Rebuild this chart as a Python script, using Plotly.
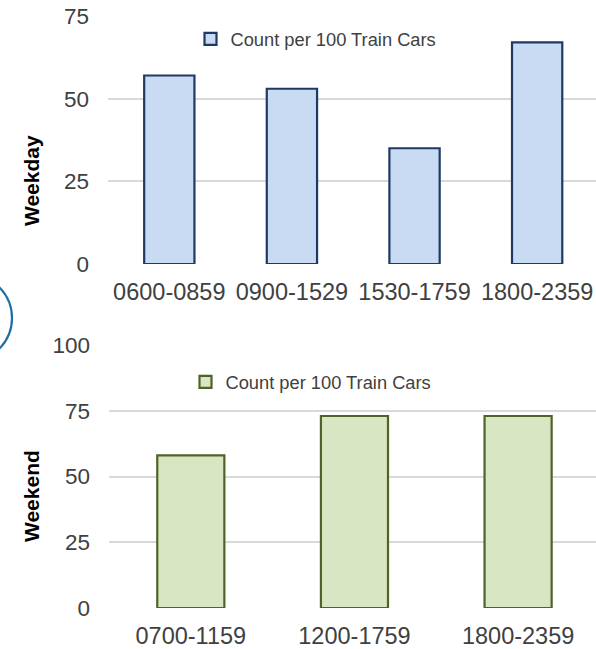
import plotly.graph_objects as go

# ---- data ----
weekday_periods = ["0600-0859", "0900-1529", "1530-1759", "1800-2359"]
weekday_counts = [57, 53, 35, 67]
weekend_periods = ["0700-1159", "1200-1759", "1800-2359"]
weekend_counts = [58, 73, 73]
series_name = "Count per 100 Train Cars"
weekday_ticks = [0, 25, 50, 75]
weekend_ticks = [0, 25, 50, 75, 100]

W, H = 596, 649
FONT = "Liberation Sans, Arial, sans-serif"
TICKCOL = "#404040"
GRID = "#d9d9d9"

def px_x(x):
    return x / W

def px_y(y):
    return (H - y) / H

fig = go.Figure()
fig.add_trace(go.Bar(
    x=weekday_periods, y=weekday_counts, name=series_name,
    xaxis="x", yaxis="y", legend="legend",
    marker=dict(color="#c9dbf2", line=dict(color="#1f3864", width=2.2)),
    hoverinfo="x+y",
))
fig.add_trace(go.Bar(
    x=weekend_periods, y=weekend_counts, name=series_name,
    xaxis="x2", yaxis="y2", legend="legend2",
    marker=dict(color="#d9e6c3", line=dict(color="#4f6228", width=2.2)),
    hoverinfo="x+y",
))

axis_common = dict(
    showline=False, zeroline=False, showgrid=False,
    tickfont=dict(family=FONT, size=23.5, color=TICKCOL),
    automargin=False, fixedrange=True, ticklabelstandoff=11,
)
yaxis_common = dict(
    showline=False, zeroline=False, showgrid=True, gridcolor=GRID, gridwidth=1.6,
    tickfont=dict(family=FONT, size=22.5, color=TICKCOL),
    automargin=False, fixedrange=True, ticklabelstandoff=18,
)

legend_common = dict(
    xanchor="center", yanchor="middle",
    font=dict(family=FONT, size=18.3, color=TICKCOL),
    bgcolor="rgba(0,0,0,0)", borderwidth=0,
)

fig.update_layout(
    width=W, height=H,
    margin=dict(l=0, r=0, t=0, b=0),
    paper_bgcolor="white", plot_bgcolor="white",
    bargap=0.59,
    showlegend=True,
    xaxis=dict(**axis_common, domain=[px_x(108), 1.0], anchor="y",
               range=[-0.5, 3.48]),
    yaxis=dict(**yaxis_common, domain=[px_y(264), px_y(16)], anchor="x",
               range=[0, 75], tickvals=weekday_ticks),
    xaxis2=dict(**axis_common, domain=[px_x(109), 1.0], anchor="y2",
                range=[-0.5, 2.476]),
    yaxis2=dict(**yaxis_common, domain=[px_y(608), px_y(345)], anchor="x2",
                range=[0, 100], tickvals=weekend_ticks),
    legend=dict(x=px_x(316), y=px_y(39), **legend_common),
    legend2=dict(x=px_x(311), y=px_y(382), **legend_common),
    annotations=[
        dict(text="<b>Weekday</b>", xref="paper", yref="paper",
             x=px_x(31), y=px_y(181), textangle=-90, showarrow=False,
             xanchor="center", yanchor="middle",
             font=dict(family=FONT, size=21, color="black")),
        dict(text="<b>Weekend</b>", xref="paper", yref="paper",
             x=px_x(31), y=px_y(496), textangle=-90, showarrow=False,
             xanchor="center", yanchor="middle",
             font=dict(family=FONT, size=21, color="black")),
    ],
    shapes=[
        dict(type="circle", xref="paper", yref="paper",
             x0=px_x(-75), x1=px_x(12), y0=px_y(361.5), y1=px_y(274.5),
             line=dict(color="#1f6fa5", width=2.2), fillcolor="rgba(0,0,0,0)",
             layer="above"),
    ],
)

fig.write_html(
    "out.html",
    config={"displayModeBar": False},
    post_script="document.body.style.margin='0';document.body.style.overflow='hidden';",
)
